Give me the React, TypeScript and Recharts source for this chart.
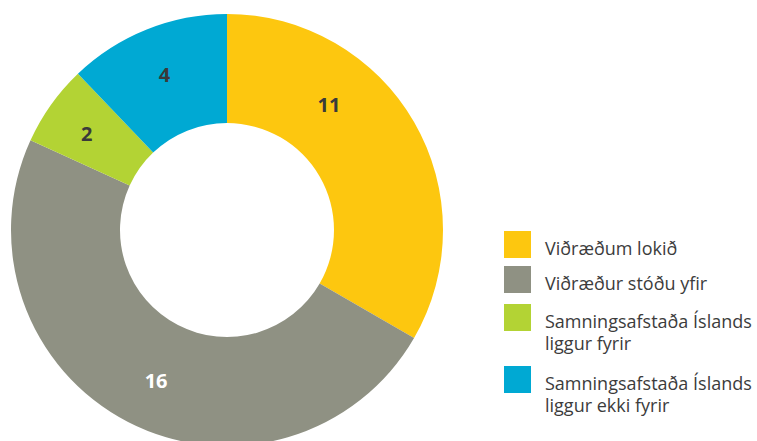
import React from 'react';
import { PieChart, Pie, Cell, Legend } from 'recharts';

const categories = [
  'Viðræðum lokið',
  'Viðræður stóðu yfir',
  'Samningsafstaða Íslands liggur fyrir',
  'Samningsafstaða Íslands liggur ekki fyrir',
];
const legendLines = [
  ['Viðræðum lokið'],
  ['Viðræður stóðu yfir'],
  ['Samningsafstaða Íslands', 'liggur fyrir'],
  ['Samningsafstaða Íslands', 'liggur ekki fyrir'],
];
const values = [11, 16, 2, 4];
const colors = ['#FDC70F', '#8F9183', '#B3D334', '#00A9D3'];
const labelColors = ['#3a3a3a', '#ffffff', '#3a3a3a', '#3a3a3a'];

const data = categories.map((name, i) => ({ name, value: values[i] }));

const RAD = Math.PI / 180;
// the first label sits nearer the top than its slice's middle
const angleShift: Record<number, number> = { 0: 21, 1: 2, 2: 1 };
const labelRadius = [162, 166, 170, 168];
const rowGap = [7, 10, 12, 0];

const renderLabel = (props: any) => {
  const { cx, cy, midAngle, index, value } = props;
  const a = midAngle + (angleShift[index] || 0);
  const r = labelRadius[index];
  const x = cx + r * Math.cos(-a * RAD);
  const y = cy + r * Math.sin(-a * RAD);
  return (
    <text
      x={x}
      y={y}
      fill={labelColors[index]}
      textAnchor="middle"
      dominantBaseline="central"
      fontFamily="'Open Sans', sans-serif"
      fontWeight={700}
      fontSize={20}
    >
      {value}
    </text>
  );
};

const LegendContent = () => (
  <div style={{ fontFamily: "'Open Sans', sans-serif", fontSize: 18, color: '#3c3c3c' }}>
    {legendLines.map((lines, i) => (
      <div key={i} style={{ display: 'flex', alignItems: 'flex-start', marginBottom: rowGap[i] }}>
        <div style={{ width: 27, height: 27, background: colors[i], flexShrink: 0 }} />
        <div style={{ marginLeft: 14, lineHeight: '22px', paddingTop: 6, whiteSpace: 'nowrap' }}>
          {lines.map((l, j) => (
            <div key={j}>{l}</div>
          ))}
        </div>
      </div>
    ))}
  </div>
);

export default function App() {
  return (
    <div style={{ position: 'absolute', left: 0, top: 0, width: 757, height: 441, background: '#fff' }}>
      <PieChart width={757} height={441} margin={{ top: 0, right: 0, bottom: 0, left: 0 }}>
        <Pie
          data={data}
          dataKey="value"
          nameKey="name"
          cx={227}
          cy={230}
          innerRadius={107}
          outerRadius={216}
          startAngle={90}
          endAngle={-270}
          stroke="none"
          label={renderLabel}
          labelLine={false}
          isAnimationActive={false}
        >
          {data.map((d, i) => (
            <Cell key={d.name} fill={colors[i]} />
          ))}
        </Pie>
        <Legend
          layout="vertical"
          content={<LegendContent />}
          wrapperStyle={{ position: 'absolute', left: 504, top: 231, width: 253 }}
        />
      </PieChart>
    </div>
  );
}
